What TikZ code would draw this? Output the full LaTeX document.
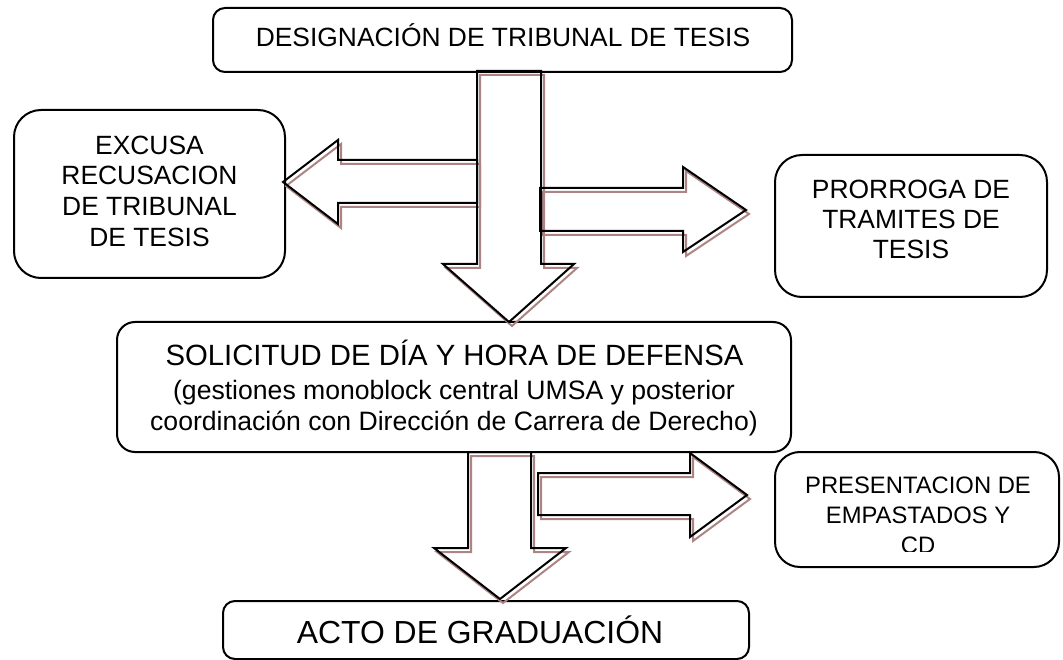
\documentclass[tikz,border=0pt]{standalone}
\usepackage{fontspec}
\setmainfont{Liberation Sans}
\definecolor{shadowc}{RGB}{172,132,132}
\begin{document}
\begin{tikzpicture}[x=1pt,y=-1pt,
  box/.style={draw=black, line width=2pt, inner sep=0pt, rectangle},
  txt/.style={anchor=base, inner sep=0pt, text=black},
  fbig/.style={font=\fontsize{26.4}{30}\selectfont},
  fmid/.style={font=\fontsize{23.8}{28}\selectfont},
  arrowline/.style={draw=black, line width=2pt, line join=miter},
  arrowshadow/.style={draw=shadowc, line width=2pt, line join=miter}]
\useasboundingbox (0,0) rectangle (1063,660);

% boxes
\node[box, minimum width=579pt, minimum height=64pt, rounded corners=12pt] (topbox) at (502.5,40) {};
\node[box, minimum width=271pt, minimum height=168pt, rounded corners=27pt] (leftbox) at (149.5,194) {};
\node[box, minimum width=272pt, minimum height=142pt, rounded corners=27pt] (rightbox) at (911,226) {};
\node[box, minimum width=674pt, minimum height=130pt, rounded corners=18pt] (midbox) at (454,387) {};
\node[box, minimum width=284pt, minimum height=115pt, rounded corners=25pt] (presbox) at (917,509.5) {};
\node[box, minimum width=526pt, minimum height=58pt, rounded corners=12pt] (endbox) at (486,630) {};

% texts
\node[txt, fbig] (t1) at (503,47) {DESIGNACIÓN DE TRIBUNAL DE TESIS};
\node[txt, fbig] (l1) at (149.5,154.5) {EXCUSA};
\node[txt, fbig] (l2) at (149.5,185) {RECUSACION};
\node[txt, fbig] (l3) at (149.5,215.7) {DE TRIBUNAL};
\node[txt, fbig] (l4) at (149.5,246.3) {DE TESIS};
\node[txt, fbig] (r1) at (911,199) {PRORROGA DE};
\node[txt, fbig] (r2) at (911,229) {TRAMITES DE};
\node[txt, fbig] (r3) at (911,259) {TESIS};
\node[txt, font=\fontsize{29.3}{32}\selectfont] (m1) at (454.5,365) {SOLICITUD DE DÍA Y HORA DE DEFENSA};
\node[txt, font=\fontsize{26.6}{30}\selectfont] (m2) at (454,399) {(gestiones monoblock central UMSA y posterior};
\node[txt, font=\fontsize{26.6}{30}\selectfont] (m3) at (454,430) {coordinación con Dirección de Carrera de Derecho)};
\node[txt, fmid] (p1) at (918,493.3) {PRESENTACION DE};
\node[txt, fmid] (p2) at (918,523) {EMPASTADOS Y};
\begin{scope}
\clip (776,530) rectangle (1058,551.5);
\node[txt, fmid] (p3) at (918,553) {CD};
\end{scope}
\node[txt, font=\fontsize{31.9}{36}\selectfont] (e1) at (480,643) {ACTO DE GRADUACIÓN};

% block arrows: shadows
\begin{scope}[shift={(3,4)}]
\draw[arrowshadow] (477,71) -- (541,71) -- (541,264) -- (574,264) -- (509,322) -- (443,264) -- (477,264) -- cycle;
\draw[arrowshadow] (477,160) -- (338,160) -- (338,140) -- (283,182) -- (338,224) -- (338,203) -- (477,203) -- cycle;
\draw[arrowshadow] (540,188) -- (683,188) -- (683,167) -- (746,210) -- (683,252) -- (683,231) -- (540,231) -- cycle;
\draw[arrowshadow] (468,452) -- (531,452) -- (531,548) -- (566,548) -- (500,599) -- (434,548) -- (468,548) -- cycle;
\draw[arrowshadow] (538,473) -- (690,473) -- (690,453) -- (747,495) -- (690,537) -- (690,515) -- (538,515) -- cycle;
\end{scope}

% block arrows: outlines
\draw[arrowline] (477,71) -- (541,71) -- (541,264) -- (574,264) -- (509,322) -- (443,264) -- (477,264) -- cycle;
\draw[arrowline] (477,160) -- (338,160) -- (338,140) -- (283,182) -- (338,224) -- (338,203) -- (477,203) -- cycle;
\draw[arrowline] (540,188) -- (683,188) -- (683,167) -- (746,210) -- (683,252) -- (683,231) -- (540,231) -- cycle;
\draw[arrowline] (468,452) -- (531,452) -- (531,548) -- (566,548) -- (500,599) -- (434,548) -- (468,548) -- cycle;
\draw[arrowline] (538,473) -- (690,473) -- (690,453) -- (747,495) -- (690,537) -- (690,515) -- (538,515) -- cycle;
\end{tikzpicture}
\end{document}
